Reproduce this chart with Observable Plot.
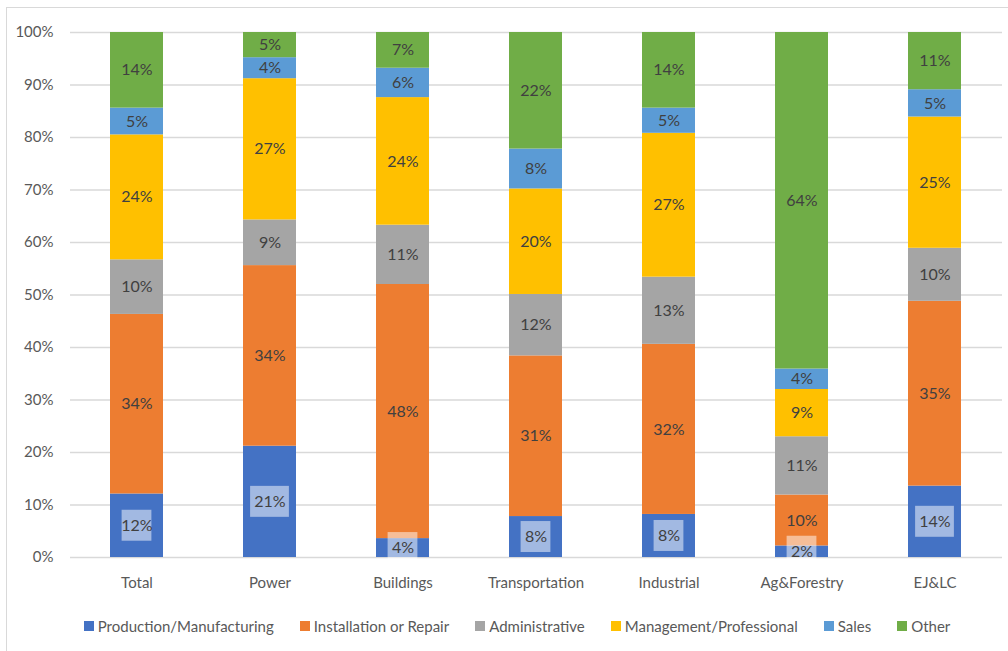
<!DOCTYPE html>
<html>
<head>
<meta charset="utf-8">
<script src="https://cdn.jsdelivr.net/npm/d3@7"></script>
<script src="https://cdn.jsdelivr.net/npm/@observablehq/plot@0.6"></script>
<style>
  html, body { margin: 0; padding: 0; background: #fff; width: 1008px; height: 651px; overflow: hidden; }
  #frame { position: absolute; left: 6px; top: 7px; width: 1100px; height: 700px; border: 1px solid #d9d9d9; box-sizing: border-box; }
  #chart { position: absolute; left: 0; top: 0; }
  #legend { position: absolute; left: 0; top: 617px; width: 1034px; display: flex; justify-content: center; font-family: Lato, sans-serif; font-size: 15px; color: #595959; }
  .item { display: flex; align-items: center; margin: 0 13px; white-space: nowrap; }
  .sw { width: 10px; height: 10px; margin-right: 4px; }
</style>
</head>
<body>
<div id="frame"></div>
<div id="chart"></div>
<div id="legend"></div>
<script>
const categories = ["Total", "Power", "Buildings", "Transportation", "Industrial", "Ag&Forestry", "EJ&LC"];
const series = ["Production/Manufacturing", "Installation or Repair", "Administrative", "Management/Professional", "Sales", "Other"];
const production     = [12.1, 21.2,  3.6,  7.8,  8.2,  2.2, 13.6];
const installation   = [34.2, 34.4, 48.4, 30.6, 32.4,  9.7, 35.2];
const administrative = [10.4,  8.7, 11.3, 11.7, 12.8, 11.1, 10.1];
const management     = [23.8, 26.9, 24.3, 20.1, 27.4,  9.0, 25.0];
const sales          = [ 5.1,  4.0,  5.6,  7.6,  4.8,  3.9,  5.2];
const other          = [14.4,  4.8,  6.8, 22.2, 14.4, 64.1, 10.9];
const yTicks = [0, 10, 20, 30, 40, 50, 60, 70, 80, 90, 100];

const colors = ["#4472c4", "#ed7d31", "#a5a5a5", "#ffc000", "#5b9bd5", "#70ad47"];
const seriesValues = [production, installation, administrative, management, sales, other];

const table = [];
categories.forEach((c, i) => {
  series.forEach((s, j) => table.push({category: c, series: s, value: seriesValues[j][i]}));
});
const boxData = categories.map((c, i) => ({category: c, mid: production[i] / 2}));
const wideBoxes = new Set(["Power", "EJ&LC"]);
const halfBox = 2.95;

const chart = Plot.plot({
  width: 1008,
  height: 600,
  marginLeft: 70,
  marginRight: 6,
  marginTop: 32,
  marginBottom: 43,
  style: {fontFamily: "Lato, sans-serif", fontSize: "15px", color: "#595959", background: "transparent"},
  x: {domain: categories, paddingInner: 0.6, paddingOuter: 0.3, label: null},
  y: {domain: [0, 100], label: null},
  color: {domain: series, range: colors},
  marks: [
    Plot.ruleY(yTicks, {stroke: "#d9d9d9", strokeWidth: 1.3}),
    Plot.barY(table, {x: "category", y: "value", fill: "series"}),
    Plot.barY(boxData.filter(d => !wideBoxes.has(d.category)), {x: "category", y1: d => d.mid - halfBox, y2: d => d.mid + halfBox, fill: "white", fillOpacity: 0.5, insetLeft: 11.6, insetRight: 11.6}),
    Plot.barY(boxData.filter(d => wideBoxes.has(d.category)), {x: "category", y1: d => d.mid - halfBox, y2: d => d.mid + halfBox, fill: "white", fillOpacity: 0.5, insetLeft: 7.1, insetRight: 7.1}),
    Plot.text(table, Plot.stackY({x: "category", y: "value", z: "series", text: d => Math.round(d.value) + "%", fill: "#404040", fontSize: 16})),
    Plot.axisX({tickSize: 0, tickPadding: 20}),
    Plot.axisY({ticks: yTicks, tickSize: 0, tickPadding: 17, tickFormat: d => d + "%"})
  ]
});
document.getElementById("chart").appendChild(chart);

const legend = document.getElementById("legend");
series.forEach((s, j) => {
  const item = document.createElement("div");
  item.className = "item";
  const sw = document.createElement("span");
  sw.className = "sw";
  sw.style.background = colors[j];
  const lbl = document.createElement("span");
  lbl.textContent = s;
  item.appendChild(sw);
  item.appendChild(lbl);
  legend.appendChild(item);
});
</script>
</body>
</html>
